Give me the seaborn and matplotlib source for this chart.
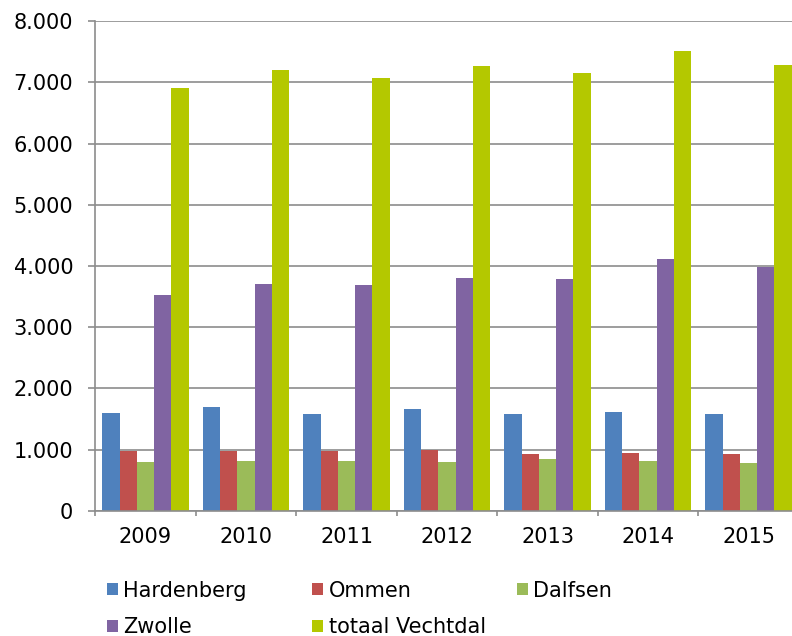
import matplotlib
matplotlib.use("Agg")
import matplotlib.pyplot as plt
import seaborn as sns
import pandas as pd
import numpy as np
from matplotlib.ticker import FuncFormatter, FixedLocator

years = ["2009", "2010", "2011", "2012", "2013", "2014", "2015"]
hardenberg = [1590, 1690, 1580, 1665, 1575, 1610, 1575]
ommen = [975, 980, 980, 990, 920, 950, 920]
dalfsen = [800, 810, 810, 800, 840, 805, 780]
zwolle = [3530, 3710, 3690, 3800, 3795, 4120, 3980]
vechtdal = [6910, 7210, 7075, 7265, 7160, 7510, 7285]

series_names = ["Hardenberg", "Ommen", "Dalfsen", "Zwolle", "totaal Vechtdal"]
colors = ["#4F81BD", "#C0504D", "#9BBB59", "#8064A2", "#B4C800"]

rows = []
for name, vals in zip(series_names, [hardenberg, ommen, dalfsen, zwolle, vechtdal]):
    for y, v in zip(years, vals):
        rows.append({"jaar": y, "gemeente": name, "waarde": v})
df = pd.DataFrame(rows)

sns.set_style("white")
plt.rcParams["font.family"] = ["DejaVu Sans"]
plt.rcParams["text.color"] = "black"

FS = 15

fig = plt.figure(figsize=(7.92, 6.36), dpi=100)
ax = fig.add_axes([0.1203, 0.197, 0.8883, 0.7695])

sns.barplot(data=df, x="jaar", y="waarde", hue="gemeente", hue_order=series_names,
            order=years, palette=colors, width=0.86, gap=0, linewidth=0,
            errorbar=None, saturation=1, ax=ax)

handles, labels = ax.get_legend_handles_labels()
if ax.get_legend() is not None:
    ax.get_legend().remove()

grey = "#8c8c8c"
ax.set_ylim(0, 8000)
ax.set_xlim(-0.5, 6.5)
ax.yaxis.set_major_locator(FixedLocator(np.arange(0, 8001, 1000)))
ax.yaxis.set_major_formatter(FuncFormatter(lambda v, p: f"{int(v):,}".replace(",", ".")))
ax.grid(axis="y", color=grey, linewidth=1.2)
ax.set_axisbelow(True)
ax.set_xlabel("")
ax.set_ylabel("")
for s in ["top", "right"]:
    ax.spines[s].set_visible(False)
for s in ["left", "bottom"]:
    ax.spines[s].set_color(grey)
    ax.spines[s].set_linewidth(1.2)

ax.tick_params(axis="y", which="major", left=True, length=5, width=1.2, color=grey,
               pad=10.8, labelsize=FS, labelcolor="black")
ax.tick_params(axis="x", which="major", bottom=True, length=0, pad=12, labelsize=FS,
               labelcolor="black")
ax.xaxis.set_minor_locator(FixedLocator(np.arange(-0.5, 7.0, 1.0)))
ax.tick_params(axis="x", which="minor", bottom=True, length=3.8, width=1.2, color=grey,
               direction="out")

# legend in three columns positioned like the original
cols = [[0, 3], [1, 4], [2]]
xpos = [0.1347, 0.3943, 0.6524]
for idx, xp in zip(cols, xpos):
    fig.legend([handles[i] for i in idx], [labels[i] for i in idx],
               loc="upper left", bbox_to_anchor=(xp, 0.087),
               frameon=False, fontsize=FS, ncol=1, labelcolor="black",
               handlelength=0.53, handleheight=0.53, handletextpad=0.25,
               labelspacing=0.8, borderpad=0, borderaxespad=0)

fig.savefig("out.png", dpi=100)
